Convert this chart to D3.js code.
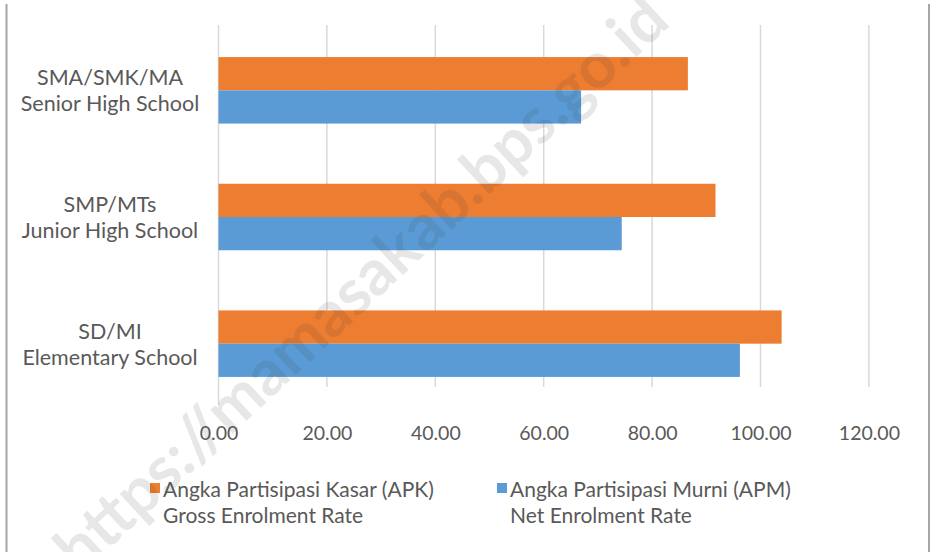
<!DOCTYPE html>
<html lang="en">
<head>
<meta charset="utf-8">
<title>APK APM</title>
<script src="https://d3js.org/d3.v7.min.js"></script>
<style>
  body { margin: 0; background: #fff; }
  svg text { font-family: Lato, "Open Sans", sans-serif; fill: #595959; }
</style>
</head>
<body>
<div id="chart"></div>
<script>
  // data, top to bottom as in the chart
  var levels = ["SMA/SMK/MA", "SMP/MTs", "SD/MI"];
  var levelsEn = ["Senior High School", "Junior High School", "Elementary School"];
  var apk = [86.6, 91.7, 103.9];   // Angka Partisipasi Kasar
  var apm = [66.9, 74.4, 96.2];    // Angka Partisipasi Murni
  var xTicks = [0, 20, 40, 60, 80, 100, 120];
  var seriesNames = ["Angka Partisipasi Kasar (APK)", "Angka Partisipasi Murni (APM)"];
  var seriesNamesEn = ["Gross Enrolment Rate", "Net Enrolment Rate"];
  var colors = ["#ED7D31", "#5B9BD5"];

  var W = 931, H = 552;
  var svg = d3.select("#chart").append("svg")
    .attr("width", W)
    .attr("height", H);

  // frame sides
  svg.append("line").attr("x1", 6.5).attr("x2", 6.5).attr("y1", 4).attr("y2", H)
    .attr("stroke", "#a6a6a6").attr("stroke-width", 2);
  svg.append("line").attr("x1", 929).attr("x2", 929).attr("y1", 4).attr("y2", H)
    .attr("stroke", "#a6a6a6").attr("stroke-width", 2);

  var x = d3.scaleLinear().domain([0, 120]).range([218.5, 868.9]);
  var y = d3.scaleBand().domain(levels).range([27, 407]).paddingInner(0.475).paddingOuter(0.2375);
  var inner = d3.scaleBand().domain([0, 1]).range([0, y.bandwidth()]);

  // gridlines
  svg.append("g").selectAll("line")
    .data(xTicks)
    .enter().append("line")
      .attr("x1", function(d){ return x(d); })
      .attr("x2", function(d){ return x(d); })
      .attr("y1", 25)
      .attr("y2", function(d){ return d === 0 ? 405 : 387; })
      .attr("stroke", "#d9d9d9")
      .attr("stroke-width", 1.5);

  // bars
  var rows = levels.map(function(l, i){ return { level: l, vals: [apk[i], apm[i]] }; });
  var grp = svg.append("g").selectAll("g")
    .data(rows)
    .enter().append("g")
      .attr("transform", function(d){ return "translate(0," + y(d.level) + ")"; });
  grp.selectAll("rect")
    .data(function(d){ return d.vals; })
    .enter().append("rect")
      .attr("x", x(0))
      .attr("y", function(d, i){ return inner(i); })
      .attr("width", function(d){ return x(d) - x(0); })
      .attr("height", inner.bandwidth())
      .attr("fill", function(d, i){ return colors[i]; });

  // category labels
  var lab = svg.append("g").selectAll("text")
    .data(levels)
    .enter().append("text")
      .attr("text-anchor", "middle")
      .attr("font-size", 21.5)
      .attr("x", 110);
  lab.append("tspan")
    .attr("x", 110)
    .attr("y", function(d){ return y(d) + y.bandwidth() / 2 - 5; })
    .text(function(d){ return d; });
  lab.append("tspan")
    .attr("x", 110)
    .attr("y", function(d){ return y(d) + y.bandwidth() / 2 + 21; })
    .text(function(d, i){ return levelsEn[i]; });

  // x axis labels
  var xAxis = d3.axisBottom(x).tickValues(xTicks).tickSize(0).tickPadding(0)
    .tickFormat(d3.format(".2f"));
  var ax = svg.append("g").attr("transform", "translate(0,426)").call(xAxis);
  ax.select(".domain").remove();
  ax.selectAll("text").attr("font-size", 19.5).attr("font-family", "Lato, sans-serif").attr("fill", "#595959");

  // legend
  var legX = [150, 497];
  var leg = svg.append("g").selectAll("g")
    .data(seriesNames)
    .enter().append("g")
      .attr("transform", function(d, i){ return "translate(" + legX[i] + ",0)"; });
  leg.append("rect")
    .attr("x", 0).attr("y", 483).attr("width", 10).attr("height", 10)
    .attr("fill", function(d, i){ return colors[i]; });
  leg.append("text")
    .attr("x", 13).attr("y", 497)
    .attr("font-size", 21)
    .text(function(d){ return d; });
  leg.append("text")
    .attr("x", 13).attr("y", 523)
    .attr("font-size", 21)
    .text(function(d, i){ return seriesNamesEn[i]; });

  // watermark
  svg.append("text")
    .attr("transform", "translate(672,24) rotate(-43)")
    .attr("text-anchor", "end")
    .attr("font-size", 64)
    .attr("font-weight", "bold")
    .style("fill", "rgba(60,60,60,0.12)")
    .text("https://mamasakab.bps.go.id");
</script>
</body>
</html>
